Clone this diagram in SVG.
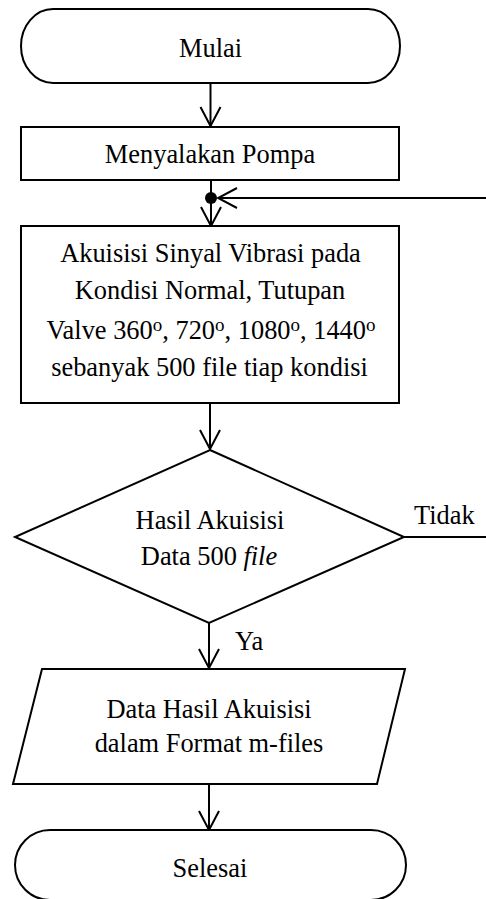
<svg xmlns="http://www.w3.org/2000/svg" width="486" height="899" viewBox="0 0 486 899" font-family="Liberation Serif">
<style>
.shape{fill:#fff;stroke:#000;stroke-width:2}
.ln{fill:none;stroke:#000;stroke-width:2}
.t{text-anchor:middle}
.sup{font-size:19px}
</style>
<defs>
<marker id="arr" viewBox="-21 -12 23 24" refX="0" refY="0" markerWidth="23" markerHeight="24" markerUnits="userSpaceOnUse" orient="auto">
<path d="M-19,-10 L0,0 L-19,10" fill="none" stroke="#000" stroke-width="2"/>
</marker>
</defs>
<rect width="486" height="899" fill="#fff"/>
<g font-family="Liberation Serif" font-size="26.4" fill="#000">
<g id="connectors">
<line class="ln" x1="210.5" y1="83" x2="210.5" y2="126" marker-end="url(#arr)"/>
<line class="ln" x1="211" y1="180" x2="211" y2="198"/>
<line class="ln" x1="211" y1="198" x2="211" y2="226" marker-end="url(#arr)"/>
<line class="ln" x1="487" y1="198" x2="218" y2="198" marker-end="url(#arr)"/>
<circle cx="211" cy="198" r="6" fill="#000"/>
<line class="ln" x1="210" y1="403" x2="210" y2="449" marker-end="url(#arr)"/>
<line class="ln" x1="404" y1="537" x2="487" y2="537"/>
<text x="414" y="524" font-family="Liberation Serif">Tidak</text>
<line class="ln" x1="209" y1="623" x2="209" y2="668" marker-end="url(#arr)"/>
<text x="235" y="650" font-family="Liberation Serif">Ya</text>
<line class="ln" x1="209" y1="784" x2="209" y2="830" marker-end="url(#arr)"/>
</g>
<g id="mulai">
<rect class="shape" x="21" y="9" width="379" height="74" rx="32" ry="37"/>
<text class="t" x="210.5" y="57" font-family="Liberation Serif">Mulai</text>
</g>
<g id="menyalakan">
<rect class="shape" x="21" y="127" width="378" height="53"/>
<text class="t" x="210" y="163" font-family="Liberation Serif">Menyalakan Pompa</text>
</g>
<g id="akuisisi">
<rect class="shape" x="21" y="226" width="378" height="177"/>
<text class="t" x="210.5" y="262" font-family="Liberation Serif">Akuisisi Sinyal Vibrasi pada</text>
<text class="t" x="210" y="299" font-family="Liberation Serif">Kondisi Normal, Tutupan</text>
<text class="t" x="211" y="339" font-family="Liberation Serif">Valve 360<tspan class="sup" dy="-8">o</tspan><tspan dy="8">, 720</tspan><tspan class="sup" dy="-8">o</tspan><tspan dy="8">, 1080</tspan><tspan class="sup" dy="-8">o</tspan><tspan dy="8">, 1440</tspan><tspan class="sup" dy="-8">o</tspan></text>
<text class="t" x="209.5" y="376" font-family="Liberation Serif">sebanyak 500 file tiap kondisi</text>
</g>
<g id="keputusan">
<polygon class="shape" points="210,450 404,537 209,623 15,537"/>
<text class="t" x="210" y="529" font-family="Liberation Serif">Hasil Akuisisi</text>
<text class="t" x="209" y="565" font-family="Liberation Serif">Data 500 <tspan font-style="italic">file</tspan></text>
</g>
<g id="data">
<polygon class="shape" points="42,669 405,669 377,784 13,784"/>
<text class="t" x="209" y="718" font-family="Liberation Serif">Data Hasil Akuisisi</text>
<text class="t" x="209" y="752" font-family="Liberation Serif">dalam Format m-files</text>
</g>
<g id="selesai">
<rect class="shape" x="15" y="830" width="391" height="70" rx="35" ry="35"/>
<text class="t" x="210" y="877" font-family="Liberation Serif">Selesai</text>
</g>
</g>
</svg>
